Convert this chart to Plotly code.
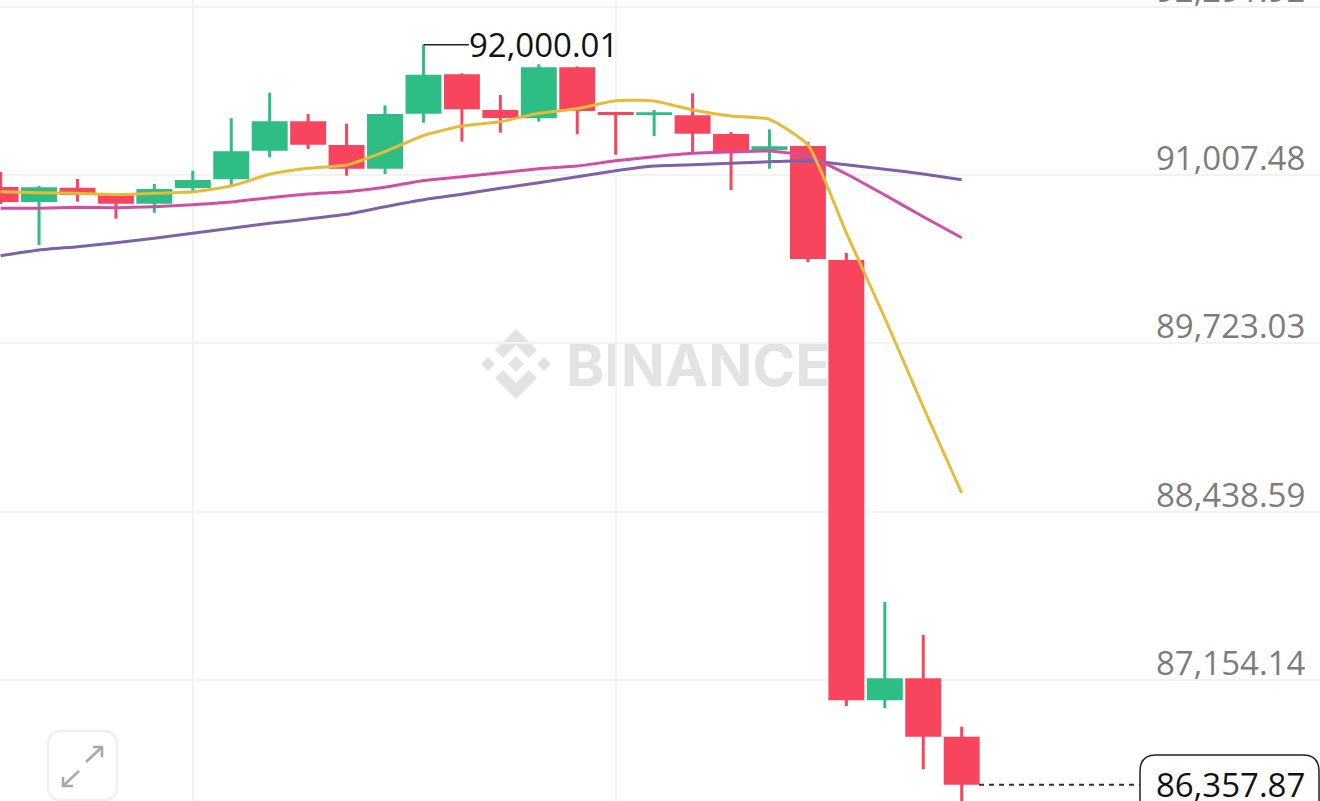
import plotly.graph_objects as go

# candles
idx = list(range(26))
opens = [90916.0, 90801.5, 90910.6, 90854.9, 90788.6, 90908.3, 90974.7, 91192.8, 91417.0, 91236.3, 91055.5, 91475.0, 91775.5,
         91503.2, 91439.9, 91828.9, 91488.0, 91465.1, 91462.8, 91320.2, 91198.2, 91228.7, 90359.2, 87001.0, 87168.8, 86723.4]
highs = [91030.4, 90923.6, 90977.0, 90862.6, 90938.8, 91040.3, 91439.9, 91635.2, 91472.7, 91398.7, 91539.1, 92000.01, 91783.2,
         91617.6, 91851.8, 91835.0, 91488.0, 91503.2, 91630.6, 91335.4, 91356.0, 91259.2, 90412.6, 87750.7, 87499.1, 86799.7]
lows = [90786.3, 90473.6, 90803.8, 90674.2, 90719.9, 90870.2, 90931.2, 91142.5, 91205.8, 91002.2, 91015.1, 91406.4, 91261.5,
        91330.1, 91414.0, 91317.9, 91162.3, 91304.9, 91180.6, 90893.1, 91055.5, 90343.9, 86957.5, 86942.3, 86474.8, 86126.2]
closes = [90801.5, 90913.7, 90854.9, 90788.6, 90900.7, 90969.3, 91188.2, 91417.0, 91238.6, 91055.5, 91472.7, 91772.5, 91508.6,
          91442.2, 91828.9, 91495.6, 91465.1, 91485.7, 91322.5, 91182.9, 91226.4, 90366.8, 87001.0, 87168.8, 86723.4, 86357.87]

ma7 = [90880.1, 90872.5, 90867.9, 90858.7, 90867.9, 90880.1, 90923.6, 91012.8, 91058.6, 91083.7, 91185.2, 91308.7, 91381.2,
       91414.0, 91478.1, 91513.2, 91574.2, 91571.9, 91503.2, 91457.5, 91432.3, 91236.3, 90565.1, 89916.8, 89238.0, 88582.1]
ma25 = [90753.5, 90753.5, 90761.1, 90758.1, 90765.7, 90781.0, 90801.5, 90834.3, 90862.6, 90880.1, 90913.7, 90965.5, 90994.5,
        91025.0, 91055.5, 91076.1, 91116.5, 91147.1, 91173.0, 91182.9, 91190.5, 91152.4, 91015.1, 90854.9, 90689.4, 90529.3]
ma99 = [90392.0, 90435.4, 90460.6, 90491.1, 90524.7, 90562.8, 90601.0, 90639.1, 90671.9, 90707.7, 90765.7, 90819.1, 90860.3,
        90906.0, 90948.8, 90994.5, 91040.3, 91076.1, 91086.0, 91096.7, 91108.9, 91116.5, 91086.0, 91051.0, 91015.1, 90971.6]

price_ticks = [92291.92, 91007.48, 89723.03, 88438.59, 87154.14]
time_grid = [5, 16]
high_price = 92000.01
last_price = 86357.87

RED = "#F6455D"
GREEN = "#2EBD85"
W, H = 1320, 801
FONT = "Open Sans"


# pixel position on the page -> paper coordinates
def px(x, y):
    return "%.5f %.5f" % (x / W, 1 - y / H)


def poly(points, close=True):
    d = "M " + " L ".join(px(*p) for p in points)
    return d + " Z" if close else d


fig = go.Figure()
fig.add_trace(go.Candlestick(
    x=idx, open=opens, high=highs, low=lows, close=closes, whiskerwidth=0,
    increasing=dict(fillcolor=GREEN, line=dict(color=GREEN, width=0)),
    decreasing=dict(fillcolor=RED, line=dict(color=RED, width=0))))
# wicks
fig.add_trace(go.Ohlc(
    x=idx, open=opens, high=highs, low=lows, close=closes, tickwidth=0,
    increasing=dict(line=dict(color=GREEN, width=3)),
    decreasing=dict(line=dict(color=RED, width=3))))
fig.add_trace(go.Scatter(x=idx, y=ma99, mode="lines", line=dict(color="#7D62A9", width=3, shape="spline", smoothing=0.5)))
fig.add_trace(go.Scatter(x=idx, y=ma25, mode="lines", line=dict(color="#D14EA6", width=3, shape="spline", smoothing=0.5)))
fig.add_trace(go.Scatter(x=idx, y=ma7, mode="lines", line=dict(color="#E6BB3A", width=3, shape="spline", smoothing=0.5)))

shapes = []
# watermark, below the candles
WM = "#E3E3E3"
for pts in [[(516, 356), (524, 364), (516, 372), (508, 364)],
            [(488, 357), (495, 364), (488, 371), (481, 364)],
            [(544, 357), (551, 364), (544, 371), (537, 364)],
            [(516, 329), (537, 350), (529, 358), (516, 345), (503, 358), (495, 350)],
            [(516, 399), (537, 378), (529, 370), (516, 383), (503, 370), (495, 378)]]:
    shapes.append(dict(type="path", xref="paper", yref="paper", layer="below", path=poly(pts),
                       fillcolor=WM, line=dict(width=0)))
shapes.append(dict(type="rect", xref="paper", yref="paper", layer="below",
                   x0=560 / W, x1=860 / W, y0=1 - 393 / H, y1=1 - 333 / H, line=dict(width=0),
                   fillcolor="rgba(0,0,0,0)",
                   label=dict(text="<b>BINANCE</b>", textposition="middle left",
                              font=dict(family="Inter", size=58, color=WM))))

# high marker and last price line
shapes.append(dict(type="line", x0=11, x1=12.18, y0=high_price, y1=high_price,
                   line=dict(color="#222222", width=1.5)))
shapes.append(dict(type="line", x0=25.45, x1=29.65, y0=last_price, y1=last_price,
                   line=dict(color="#333333", width=2, dash="5px,5px")))

# last price box
shapes.append(dict(type="path", xref="paper", yref="paper", fillcolor="white", line=dict(color="#222222", width=1.5),
                   path="M %s L %s Q %s %s L %s Q %s %s L %s" % (
                       px(1140, 815), px(1140, 771), px(1140, 755), px(1156, 755), px(1303, 755),
                       px(1319, 755), px(1319, 771), px(1319, 815))))

# expand button
shapes.append(dict(type="path", xref="paper", yref="paper", line=dict(color="#F0F0F0", width=2.5),
                   path="M %s L %s Q %s %s L %s Q %s %s L %s Q %s %s L %s Q %s %s Z" % (
                       px(62, 731), px(103, 731), px(117, 731), px(117, 745), px(117, 786), px(117, 800), px(103, 800),
                       px(62, 800), px(48, 800), px(48, 786), px(48, 745), px(48, 731), px(62, 731))))
for pts in [[(86, 762), (102, 747)], [(93, 747), (102, 747), (102, 757)],
            [(79, 771), (63, 786)], [(63, 777), (63, 786), (73, 786)]]:
    shapes.append(dict(type="path", xref="paper", yref="paper", path=poly(pts, close=False),
                       line=dict(color="#A8A8A8", width=2.5)))

annotations = []
for p in price_ticks:
    annotations.append(dict(x=1305 / W, xref="paper", y=p, yref="y", text=f"{p:,.2f}", showarrow=False,
                            xanchor="right", yanchor="bottom", yshift=-7, xshift=2,
                            font=dict(family=FONT, size=33, color="#7C7C7C")))
annotations.append(dict(x=12.2, y=high_price, text=f"{high_price:,.2f}", showarrow=False, xanchor="left",
                        yanchor="middle", font=dict(family=FONT, size=33, color="#111111"), xshift=-3))
annotations.append(dict(x=1305 / W, xref="paper", y=last_price, yref="y", text=f"{last_price:,.2f}", showarrow=False,
                        xanchor="right", yanchor="middle", xshift=2,
                        font=dict(family=FONT, size=33, color="#111111")))

fig.update_layout(
    width=W, height=H, margin=dict(l=0, r=0, t=0, b=0),
    paper_bgcolor="white", plot_bgcolor="white", showlegend=False,
    boxgap=0.065, boxgroupgap=0,
    shapes=shapes, annotations=annotations,
    xaxis=dict(range=[-0.015, 34.32], rangeslider=dict(visible=False), tickvals=time_grid, showticklabels=False,
               showgrid=True, gridcolor="#F2F2F2", gridwidth=1.5, zeroline=False, showline=False, ticks=""),
    yaxis=dict(range=[86232.98, 92342.2], tickvals=price_ticks, showticklabels=False,
               showgrid=True, gridcolor="#F2F2F2", gridwidth=1.5, zeroline=False, showline=False, ticks=""),
)

fig.write_html("out.html", config=dict(displayModeBar=False),
               post_script="document.body.style.margin='0';document.body.style.overflow='hidden';")
